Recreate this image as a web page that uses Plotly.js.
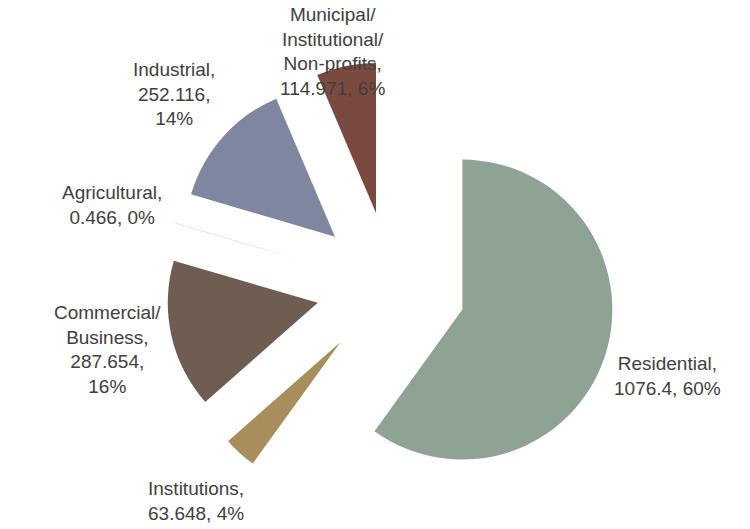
<!DOCTYPE html>
<html>
<head>
<meta charset="utf-8">
<script src="https://cdn.plot.ly/plotly-3.0.1.min.js"></script>
<style>
  html, body { margin: 0; padding: 0; background: #fff; }
  #chart { width: 750px; height: 529px; }
</style>
</head>
<body>
<div id="chart"></div>
<script>
// Sectors, clockwise from 12 o'clock
const sectors = ['Residential', 'Institutions', 'Commercial/<br>Business', 'Agricultural',
                 'Industrial', 'Municipal/<br>Institutional/<br>Non-profits'];
const usage = [1076.4, 63.648, 287.654, 0.466, 252.116, 114.971];
const sliceColors = ['#8fa394', '#a88e5c', '#6f5d52', '#9aa3b5', '#7e86a0', '#7b4a3f'];
// does the value go on its own line after the name (true) or share it with the percent
const splitValue = [false, false, true, false, true, false];

const W = 750, H = 529;
const pieDomain = { x: [0.2213, 0.8213], y: [0.0331, 0.8837] };
const pull = 0.5;
const labelDist = 1.29;   // label centre, as a fraction of the pulled pie's outer radius
const fontSize = 19;

const total = usage.reduce((a, b) => a + b, 0);

// build the data labels as annotations around the pie, Excel style
function buildLabels() {
    const cx = (pieDomain.x[0] + pieDomain.x[1]) / 2 * W;
    const cy = (1 - (pieDomain.y[0] + pieDomain.y[1]) / 2) * H;
    const outerR = Math.min((pieDomain.x[1] - pieDomain.x[0]) * W, (pieDomain.y[1] - pieDomain.y[0]) * H) / 2;
    const notes = [];
    let cum = 0;
    for (let i = 0; i < usage.length; i++) {
        const mid = (90 - 360 * (cum + usage[i] / 2) / total) * Math.PI / 180;
        cum += usage[i];
        const pct = Math.round(usage[i] / total * 100) + '%';
        const text = sectors[i] + ',<br>' + usage[i] + (splitValue[i] ? ',<br>' : ', ') + pct;
        const nLines = text.split('<br>').length;
        const half = nLines * fontSize * 1.3 / 2;
        let px = cx + Math.cos(mid) * outerR * labelDist;
        let py = cy - Math.sin(mid) * outerR * labelDist;
        // keep the label inside the chart area
        py = Math.max(py, half + 2);
        py = Math.min(py, H - half - 2);
        notes.push({
            xref: 'paper', yref: 'paper',
            x: px / W, y: 1 - py / H,
            xanchor: 'center', yanchor: 'middle',
            text: text, showarrow: false, align: 'center',
            font: { family: 'Liberation Sans, Arial, sans-serif', size: fontSize, color: '#404040' }
        });
    }
    return notes;
}

const trace = {
    type: 'pie',
    labels: sectors,
    values: usage,
    sort: false,
    direction: 'clockwise',
    rotation: 0,
    pull: usage.map(() => pull),
    marker: { colors: sliceColors, line: { width: 0 } },
    textinfo: 'none',
    hoverinfo: 'label+value+percent',
    showlegend: false,
    domain: pieDomain
};

const layout = {
    width: W,
    height: H,
    margin: { l: 0, r: 0, t: 0, b: 0 },
    paper_bgcolor: '#ffffff',
    showlegend: false,
    annotations: buildLabels()
};

Plotly.newPlot('chart', [trace], layout, { displayModeBar: false, staticPlot: true });
</script>
</body>
</html>
